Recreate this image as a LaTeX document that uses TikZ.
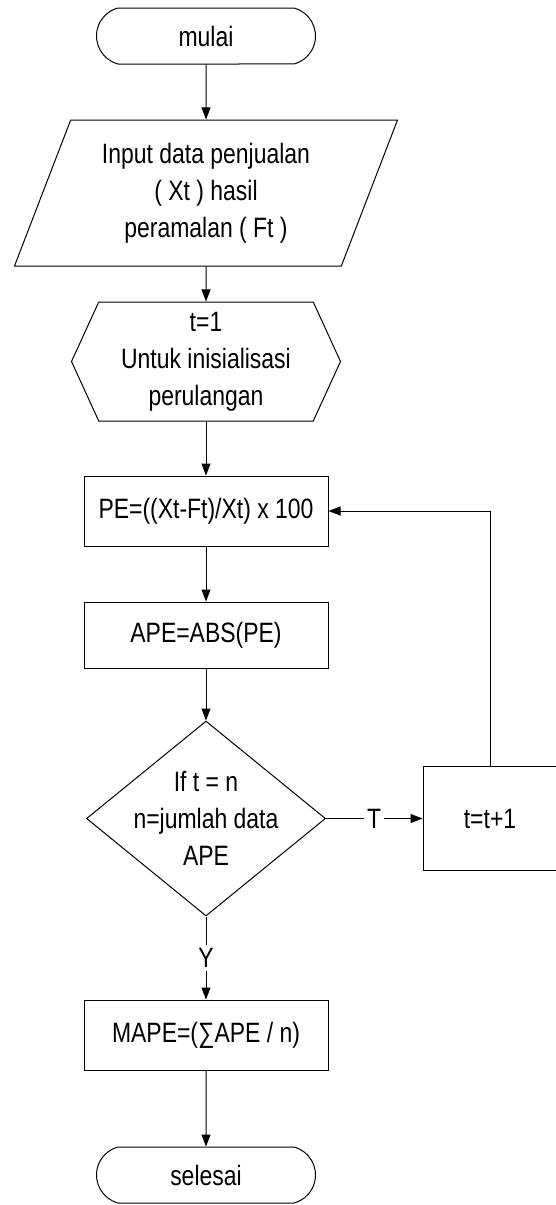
\documentclass[tikz,border=0pt]{standalone}
\usepackage{fontspec}
\setmainfont{Liberation Sans}[FakeStretch=0.82]
\usetikzlibrary{shapes.geometric,shapes.misc,shapes.symbols,arrows.meta}

\tikzset{
  terminal/.style={draw, rounded rectangle, rounded rectangle arc length=150,
    minimum width=109.5pt, minimum height=28pt, inner sep=0pt},
  iobox/.style={draw, trapezium, trapezium left angle=68.7,
    trapezium right angle=111.3, trapezium stretches body,
    minimum width=191.5pt, minimum height=73pt, inner xsep=0pt,
    inner ysep=11pt},
  prepbox/.style={draw, signal, signal to=west and east,
    signal pointer angle=130.8, minimum width=134.5pt,
    minimum height=59.5pt, inner sep=0pt},
  procbox/.style={draw, rectangle, minimum width=122pt, inner sep=0pt},
  decision/.style={draw, diamond, minimum width=119.5pt,
    minimum height=97.5pt, inner sep=-12pt},
  branch/.style={fill=white, inner sep=1.5pt},
}

\begin{document}
\begin{tikzpicture}[x=0.5pt, y=-0.5pt, line width=0.5pt,
  font=\fontsize{14}{18.5}\selectfont,
  every node/.append style={align=center},
  >={Triangle[length=6pt,width=4.5pt]}]

  \useasboundingbox (0,0) rectangle (556,1205);

  % --- mulai ---
  \node[terminal] (mulai) at (206,36) {mulai};

  % --- input ---
  \node[iobox] (input) at (206,193)
    {Input data penjualan\\( Xt ) hasil\\peramalan ( Ft )};

  % --- inisialisasi ---
  \node[prepbox] (init) at (206,361.5)
    {t=1\\Untuk inisialisasi\\perulangan};

  % --- proses ---
  \node[procbox, minimum height=35pt] (pe) at (206,511)
    {PE=((Xt-Ft)/Xt) x 100};
  \node[procbox, minimum height=33pt] (ape) at (206,635) {APE=ABS(PE)};

  % --- keputusan ---
  \node[decision] (cek) at (206,818.5) {If t = n\\n=jumlah data\\APE};
  \node[draw, minimum width=67pt, minimum height=52pt] (tambah) at (490,818.5)
    {t=t+1};

  % --- hasil ---
  \node[procbox, minimum height=35pt] (mape) at (206,1035)
    {MAPE=(∑APE / n)};
  \node[terminal] (selesai) at (206,1175) {selesai};

  % --- alur ---
  \draw[->] (mulai) -- (input);
  \draw[->] (input) -- (init);
  \draw[->] (init) -- (pe);
  \draw[->] (pe) -- (ape);
  \draw[->] (ape) -- (cek);
  \draw[->] (cek) -- node[branch] {T} (tambah);
  \draw[->] (tambah.north) |- (pe.east);
  \draw[->] (cek) -- node[branch] {Y} (mape);
  \draw[->] (mape) -- (selesai);

\end{tikzpicture}
\end{document}
